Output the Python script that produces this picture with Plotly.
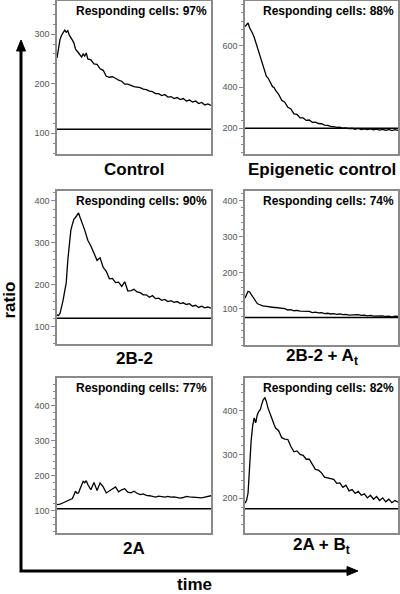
import plotly.graph_objects as go

W, H = 400, 594

# ---------------- data ----------------
time = list(range(0, 21)) + list(range(22, 101, 2))

panel_titles = ["Control", "Epigenetic control", "2B-2",
                "2B-2 + A<sub>t</sub>", "2A", "2A + B<sub>t</sub>"]
responding = [97, 88, 90, 74, 77, 82]
baselines = [108, 200, 120, 76, 106, 176]
y_ranges = [[58, 367], [75, 818], [59, 423], [0, 427], [37, 478], [121, 474]]
tick_vals = [[100, 200, 300], [200, 400, 600], [100, 200, 300, 400],
             [100, 200, 300, 400], [100, 200, 300, 400], [200, 300, 400]]
minor_step = [20, 40, 20, 20, 20, 20]

ratio_control = [252, 272, 290, 298, 303, 308, 304, 307, 298, 294, 288, 282, 270, 266, 262, 258, 254, 260, 256, 262, 250,
                 248, 240, 239, 230, 227, 215, 213, 214, 211, 207,
                 205, 199, 199, 196, 194, 193, 192, 189, 188, 185,
                 184, 180, 180, 176, 178, 173, 174, 170, 172, 168,
                 170, 165, 167, 163, 165, 160, 162, 157, 159, 156]
ratio_epigenetic = [694, 705, 711, 688, 676, 660, 642, 618, 590, 566, 542, 512, 490, 470, 452, 445, 428, 418, 402, 398, 384,
                    365, 336, 327, 302, 294, 270, 267, 250, 250, 238,
                    240, 229, 230, 223, 222, 215, 214, 209, 208, 204,
                    205, 200, 202, 198, 200, 195, 199, 194, 197, 193,
                    197, 192, 196, 191, 195, 190, 194, 189, 193, 190]
ratio_2b2 = [128, 127, 132, 145, 164, 185, 205, 258, 300, 330, 344, 356, 360, 366, 371, 360, 352, 340, 330, 318, 306,
             292, 274, 258, 264, 241, 232, 214, 215, 205, 206,
             196, 207, 185, 186, 189, 183, 181, 176, 176, 170,
             174, 167, 168, 163, 165, 160, 162, 158, 160, 155,
             157, 153, 155, 149, 151, 146, 149, 145, 147, 144]
ratio_2b2_at = [130, 140, 149, 147, 140, 133, 126, 120, 115, 113, 111, 110, 108, 108, 107, 107, 106, 106, 105, 104, 104,
                103, 100, 101, 97, 98, 95, 96, 94, 94, 92,
                93, 90, 91, 89, 90, 87, 88, 86, 87, 85,
                86, 84, 85, 83, 84, 83, 84, 82, 83, 81,
                82, 80, 81, 80, 81, 79, 80, 78, 80, 79]
ratio_2a = [118, 118, 119, 121, 123, 125, 127, 128, 130, 133, 135, 145, 156, 150, 151, 163, 175, 184, 180, 186, 175,
            160, 181, 158, 179, 168, 151, 156, 162, 168, 154,
            160, 163, 153, 151, 156, 150, 146, 148, 144, 143,
            141, 139, 142, 141, 139, 141, 139, 140, 137, 136,
            138, 141, 140, 139, 140, 138, 137, 139, 141, 143]
ratio_2a_bt = [189, 195, 212, 280, 330, 365, 383, 372, 390, 398, 402, 415, 425, 429, 420, 406, 398, 388, 378, 368, 360,
               354, 338, 335, 334, 318, 306, 308, 300, 298, 289,
               289, 278, 266, 264, 258, 248, 246, 244, 243, 234,
               235, 225, 230, 217, 220, 211, 216, 207, 210, 201,
               207, 198, 204, 195, 201, 192, 198, 190, 195, 191]

series = [ratio_control, ratio_epigenetic, ratio_2b2, ratio_2b2_at, ratio_2a, ratio_2a_bt]

# ---------------- layout geometry (pixels) ----------------
boxes = [(57, 211, 1, 154), (245, 398, 1, 154),
         (57, 211, 191, 344), (245, 398, 191, 345),
         (57, 211, 378, 533), (245, 398, 378, 533)]
title_y = [169, 169, 358, 357, 548, 546]

FONT = "Liberation Sans, Arial, Helvetica, sans-serif"
GRAY = "#8a8a8a"


def px(x):
    return x / W


def py(y):
    return 1 - y / H


fig = go.Figure()
layout = {}
annotations = []
shapes = []

for i, (vals, (x0, x1, y0, y1)) in enumerate(zip(series, boxes)):
    n = "" if i == 0 else str(i + 1)
    xa, ya = "x" + n, "y" + n
    fig.add_trace(go.Scatter(x=time, y=vals, mode="lines",
                             line=dict(color="black", width=1.3),
                             xaxis=xa, yaxis=ya, showlegend=False,
                             hoverinfo="skip"))
    layout["xaxis" + n] = dict(domain=[px(x0), px(x1)], range=[0, 100],
                               showline=True, mirror=True, linecolor=GRAY,
                               linewidth=1.5, showgrid=False, zeroline=False,
                               ticks="", showticklabels=False, anchor=ya)
    layout["yaxis" + n] = dict(domain=[py(y1), py(y0)], range=y_ranges[i],
                               showline=True, mirror=True, linecolor=GRAY,
                               linewidth=1.5, showgrid=False, zeroline=False,
                               tickvals=tick_vals[i], ticks="outside",
                               ticklen=4, tickcolor=GRAY, tickwidth=1,
                               tickfont=dict(family=FONT, size=9, color="#555555"),
                               minor=dict(dtick=minor_step[i], tick0=0,
                                          ticks="outside", ticklen=2,
                                          tickcolor=GRAY, tickwidth=1),
                               anchor=xa)
    shapes.append(dict(type="line", xref=xa + " domain", yref=ya,
                       x0=0, x1=1, y0=baselines[i], y1=baselines[i],
                       line=dict(color="black", width=1.5)))
    annotations.append(dict(text="<b>Responding cells: %d%%</b>" % responding[i],
                            xref=xa + " domain", yref=ya + " domain",
                            x=1, y=1, xanchor="right", yanchor="top",
                            xshift=-2, yshift=-1, showarrow=False,
                            font=dict(family=FONT, size=12, color="black")))
    annotations.append(dict(text="<b>%s</b>" % panel_titles[i],
                            xref=xa + " domain", yref="paper",
                            x=0.5, y=py(title_y[i]), xanchor="center",
                            yanchor="middle", showarrow=False,
                            font=dict(family=FONT, size=17, color="black")))

# axis labels
annotations.append(dict(text="<b>ratio</b>", xref="paper", yref="paper",
                        x=px(8.5), y=py(300), textangle=-90, showarrow=False,
                        xanchor="center", yanchor="middle",
                        font=dict(family=FONT, size=17, color="black")))
annotations.append(dict(text="<b>time</b>", xref="paper", yref="paper",
                        x=px(194), y=0, showarrow=False,
                        xanchor="center", yanchor="bottom", yshift=-2,
                        font=dict(family=FONT, size=17, color="black")))

# big axis arrows
shapes.append(dict(type="path", xref="paper", yref="paper",
                   path="M %f,%f L %f,%f L %f,%f" % (px(21), py(49), px(21), py(571), px(349), py(571)),
                   line=dict(color="black", width=3)))
shapes.append(dict(type="path", xref="paper", yref="paper",
                   path="M %f,%f L %f,%f L %f,%f Z" % (px(21), py(40), px(16.5), py(51), px(25.5), py(51)),
                   fillcolor="black", line=dict(color="black", width=1)))
shapes.append(dict(type="path", xref="paper", yref="paper",
                   path="M %f,%f L %f,%f L %f,%f Z" % (px(358), py(571), px(347), py(566.5), px(347), py(575.5)),
                   fillcolor="black", line=dict(color="black", width=1)))

fig.update_layout(width=W, height=H, margin=dict(l=0, r=0, t=0, b=0),
                  paper_bgcolor="white", plot_bgcolor="white",
                  annotations=annotations, shapes=shapes, **layout)

fig.write_html("out.html", config={"displayModeBar": False},
               post_script="document.body.style.margin='0';")
